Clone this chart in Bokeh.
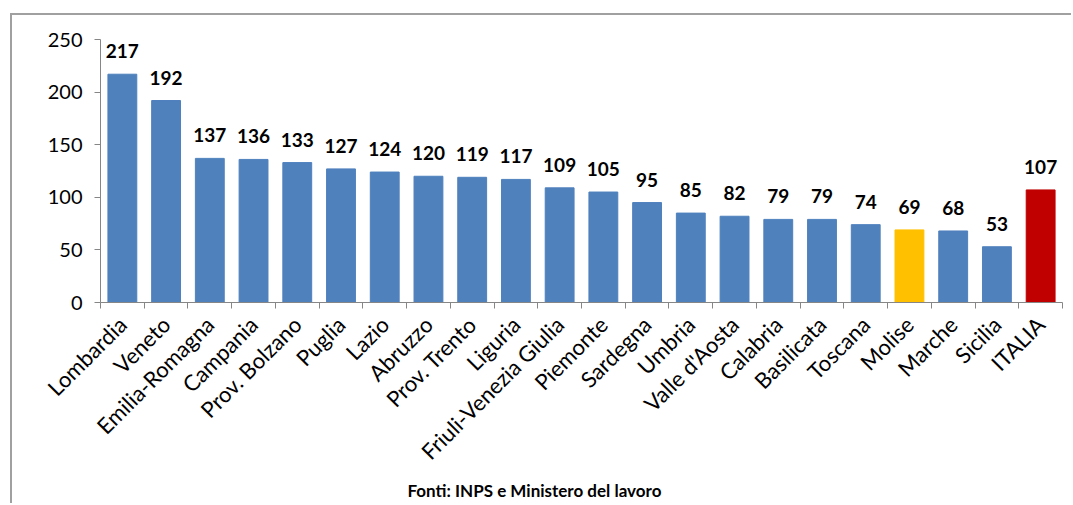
import numpy as np
from bokeh.plotting import figure
from bokeh.models import ColumnDataSource, FixedTicker, Range1d, Title, LabelSet
from bokeh.core.properties import value
from bokeh.embed import file_html
from bokeh.resources import INLINE

regions = ["Lombardia", "Veneto", "Emilia-Romagna", "Campania", "Prov. Bolzano", "Puglia",
           "Lazio", "Abruzzo", "Prov. Trento", "Liguria", "Friuli-Venezia Giulia", "Piemonte",
           "Sardegna", "Umbria", "Valle d'Aosta", "Calabria", "Basilicata", "Toscana",
           "Molise", "Marche", "Sicilia", "ITALIA"]
values = [217, 192, 137, 136, 133, 127, 124, 120, 119, 117, 109, 105, 95, 85, 82, 79, 79,
          74, 69, 68, 53, 107]
y_ticks = [0, 50, 100, 150, 200, 250]

BLUE, YELLOW, RED = "#4F81BD", "#FFC000", "#C00000"
colors = [YELLOW if r == "Molise" else RED if r == "ITALIA" else BLUE for r in regions]

n = len(regions)
xs = np.arange(n) + 0.5
src = ColumnDataSource(dict(x=xs, v=values, c=colors, lab=[str(v) for v in values]))

FONT = "Lato"
p = figure(width=1061, height=490, output_backend="svg", toolbar_location=None,
           x_range=Range1d(0, n), y_range=Range1d(0, 250),
           min_border_left=88, min_border_right=11, min_border_top=24, min_border_bottom=203)
p.outline_line_color = None
p.grid.grid_line_color = None
p.background_fill_color = "white"
p.border_fill_color = "white"
p.styles = {"border-left": "2px solid #a0a0a0", "border-top": "2px solid #a0a0a0",
            "margin-left": "10px", "margin-top": "13px"}

p.vbar(x="x", top="v", width=0.66, fill_color="c", line_color="c", source=src)
p.add_layout(LabelSet(x="x", y="v", text="lab", source=src, text_align="center",
                      text_baseline="alphabetic", y_offset=16, text_font=value(FONT),
                      text_font_style="bold", text_font_size="19px", text_color="black"))

# y axis
ya = p.yaxis[0]
ya.ticker = FixedTicker(ticks=y_ticks)
ya.axis_line_color = "#868686"
ya.major_tick_line_color = "#868686"
ya.major_tick_out = 6
ya.major_tick_in = 0
ya.minor_tick_line_color = None
ya.major_label_text_font = FONT
ya.major_label_text_font_size = "20px"
ya.major_label_text_color = "black"
ya.major_label_standoff = 12

# x axis: labels at centers, ticks at category boundaries (minor ticks)
xa = p.xaxis[0]
xa.ticker = FixedTicker(ticks=list(xs), minor_ticks=list(range(n + 1)))
xa.major_label_overrides = {float(x): r for x, r in zip(xs, regions)}
xa.major_tick_out = 0
xa.major_tick_in = 0
xa.minor_tick_out = 6
xa.minor_tick_in = 0
xa.minor_tick_line_color = "#868686"
xa.axis_line_color = "#868686"
xa.major_label_orientation = np.pi / 4
xa.major_label_text_font = FONT
xa.major_label_text_font_size = "22px"
xa.major_label_text_color = "black"
xa.major_label_standoff = 12

p.add_layout(Title(text="Fonti: INPS e Ministero del lavoro", align="left", offset=307,
                   standoff=0, text_font=FONT, text_font_style="bold",
                   text_font_size="17px", text_color="black"), "below")

open("out.html", "w").write(file_html(p, INLINE))
